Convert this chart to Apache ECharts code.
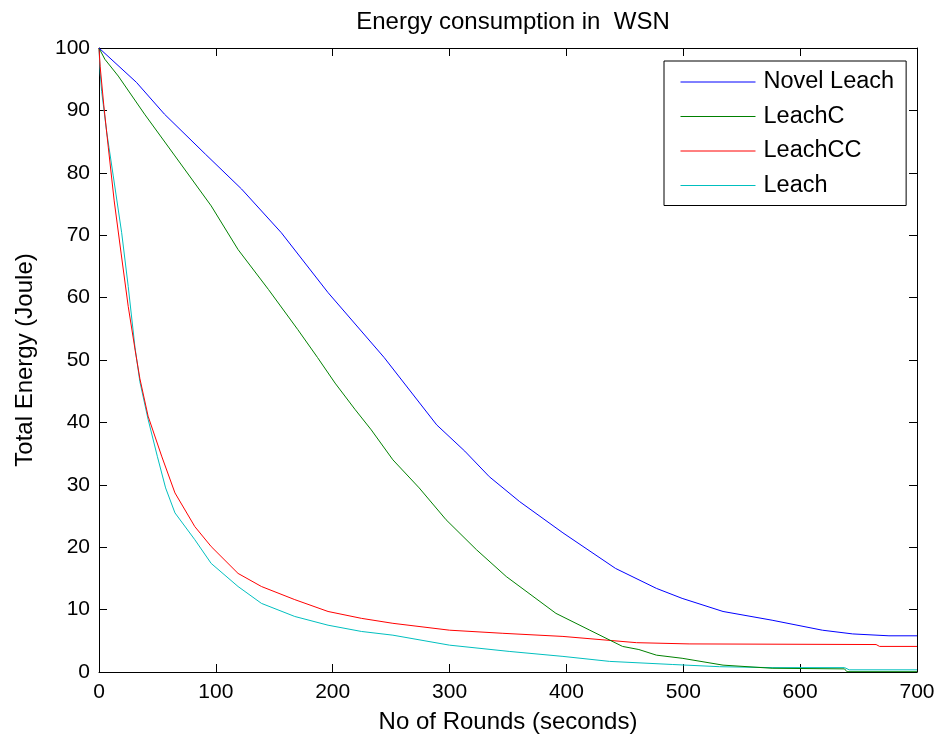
<!DOCTYPE html>
<html>
<head>
<meta charset="utf-8">
<script src="https://cdn.jsdelivr.net/npm/echarts@6/dist/echarts.min.js"></script>
<style>
html,body{margin:0;padding:0;background:#fff;}
#chart{width:942px;height:740px;}
</style>
</head>
<body>
<div id="chart"></div>
<script>
// ---- data ----
var seriesNames = ['Novel Leach', 'LeachC', 'LeachCC', 'Leach'];
var xTicks = [0, 100, 200, 300, 400, 500, 600, 700];
var yTicks = [0, 10, 20, 30, 40, 50, 60, 70, 80, 90, 100];

var novelX = [0, 32, 56, 91, 122, 156, 196, 244, 289, 313, 334, 360, 397, 442, 477, 499, 534, 576, 619, 645, 676, 700];
var novelY = [100, 94.5, 89.4, 83.0, 77.4, 70.4, 60.8, 50.4, 39.6, 35.4, 31.3, 27.3, 22.3, 16.6, 13.4, 11.8, 9.7, 8.3, 6.7, 6.1, 5.8, 5.8];

var leachCX = [0, 5, 16.5, 39, 65, 96, 119, 145, 170, 187, 202, 219, 233, 251.5, 274, 297, 323, 348.5, 391, 420, 448, 462, 477, 499, 534, 576, 638, 640, 700];
var leachCY = [100, 98.2, 95.5, 89.4, 82.7, 74.7, 67.7, 61.3, 54.9, 50.4, 46.3, 42.1, 38.8, 34.0, 29.5, 24.4, 19.6, 15.3, 9.4, 6.7, 4.1, 3.6, 2.7, 2.2, 1.1, 0.6, 0.5, 0.05, 0.05];

var leachCCX = [0, 1, 4, 8, 13, 19, 25, 31, 35, 42, 53.6, 65, 82, 96, 119, 139, 167.5, 196, 224.5, 251.5, 300, 345.6, 397, 460, 505, 665, 668, 700];
var leachCCY = [100, 97, 91, 84, 75.5, 67, 58.6, 51.5, 47, 41, 34.6, 28.7, 23.3, 20.1, 15.8, 13.7, 11.6, 9.7, 8.6, 7.8, 6.7, 6.2, 5.7, 4.7, 4.5, 4.4, 4.1, 4.1];

var leachX = [0, 1, 2.3, 6.6, 12.2, 19.4, 25, 30.8, 35, 42, 50, 57, 65, 82, 96, 119, 139, 167.5, 196, 224.5, 251.5, 300, 351, 397, 437, 491, 531, 576, 638, 642, 700];
var leachY = [100, 96, 93, 86.5, 79.5, 70.4, 61.8, 52, 46.5, 40.5, 34.5, 29.5, 25.5, 21.2, 17.4, 13.7, 11.0, 8.9, 7.5, 6.5, 5.9, 4.3, 3.3, 2.5, 1.7, 1.2, 0.85, 0.7, 0.7, 0.35, 0.35];

var colors = ['#0000ff', '#008000', '#ff0000', '#00bfbf'];

function pairs(xs, ys) {
  var out = [];
  for (var i = 0; i < xs.length; i++) out.push([xs[i], ys[i]]);
  return out;
}
var allData = [pairs(novelX, novelY), pairs(leachCX, leachCY), pairs(leachCCX, leachCCY), pairs(leachX, leachY)];

var FONT = 'Liberation Sans';
var chart = echarts.init(document.getElementById('chart'));

function axisBase(pos, showLabel) {
  return {
    type: 'value',
    position: pos,
    axisLine: {show: true, onZero: false, lineStyle: {color: '#000', width: 1}},
    axisTick: {show: true, inside: true, length: 8, lineStyle: {color: '#000', width: 1}},
    splitLine: {show: false},
    axisLabel: {show: showLabel, color: '#000', fontSize: 21, fontFamily: FONT}
  };
}

var xBottom = axisBase('bottom', true);
xBottom.min = xTicks[0]; xBottom.max = xTicks[xTicks.length - 1]; xBottom.interval = 100;
xBottom.axisLabel.margin = 10;
xBottom.name = 'No of Rounds (seconds)';
xBottom.nameLocation = 'middle';
xBottom.nameGap = 38;
xBottom.nameTextStyle = {color: '#000', fontSize: 24, fontFamily: FONT};
var xTop = axisBase('top', false);
xTop.min = xTicks[0]; xTop.max = xTicks[xTicks.length - 1]; xTop.interval = 100;

var yLeft = axisBase('left', true);
yLeft.min = yTicks[0]; yLeft.max = yTicks[yTicks.length - 1]; yLeft.interval = 10;
yLeft.axisLabel.margin = 9;
yLeft.name = 'Total Energy (Joule)';
yLeft.nameLocation = 'middle';
yLeft.nameGap = 62;
yLeft.nameTextStyle = {color: '#000', fontSize: 24, fontFamily: FONT};
var yRight = axisBase('right', false);
yRight.min = yTicks[0]; yRight.max = yTicks[yTicks.length - 1]; yRight.interval = 10;

var series = seriesNames.map(function (n, i) {
  return {
    name: n,
    type: 'line',
    data: allData[i],
    xAxisIndex: 0,
    yAxisIndex: 0,
    showSymbol: false,
    symbol: 'none',
    animation: false,
    lineStyle: {color: colors[i], width: 1},
    itemStyle: {color: colors[i]},
    z: 10 - i
  };
});

chart.setOption({
  backgroundColor: '#fff',
  animation: false,
  title: {
    text: 'Energy consumption in  WSN',
    left: 508, textAlign: 'center', top: 5,
    textStyle: {color: '#000', fontSize: 24, fontWeight: 'normal', fontFamily: FONT}
  },
  grid: {left: 99, right: 25, top: 48, bottom: 68, containLabel: false},
  xAxis: [xBottom, xTop],
  yAxis: [yLeft, yRight],
  legend: {
    data: seriesNames,
    orient: 'vertical',
    left: 664, top: 61,
    padding: [9, 12, 8, 16],
    itemWidth: 75, itemHeight: 14, itemGap: 10.5,
    backgroundColor: '#fff',
    borderColor: '#000', borderWidth: 1,
    itemStyle: {opacity: 0},
    lineStyle: {width: 1},
    textStyle: {color: '#000', fontSize: 23.5, fontFamily: FONT, padding: [0, 0, 0, 3]},
    selectedMode: false
  },
  series: series
});
</script>
</body>
</html>
